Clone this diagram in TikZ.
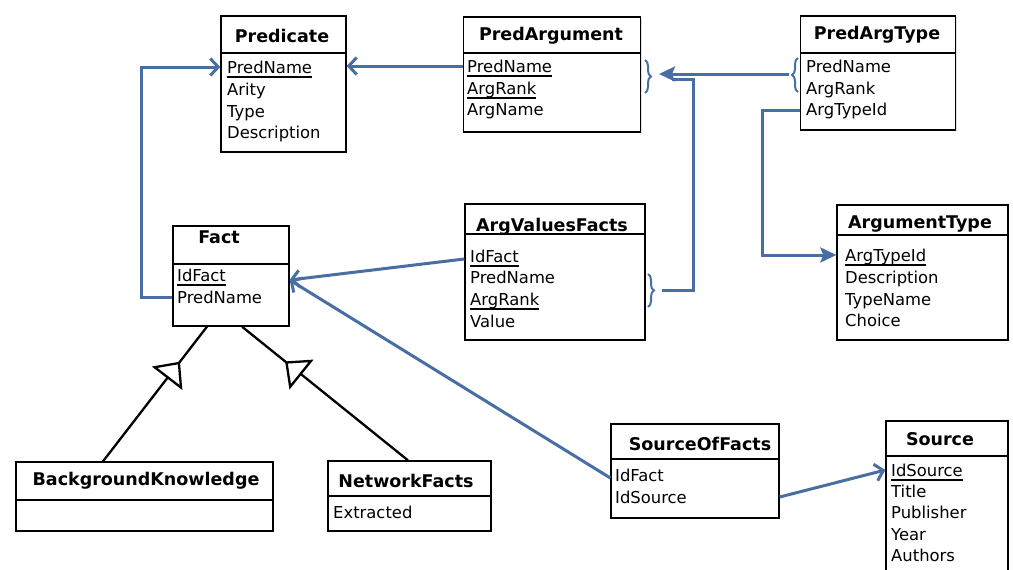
\documentclass[tikz,border=0pt]{standalone}
\usepackage{fontspec}
\setmainfont{DejaVu Sans}
\usetikzlibrary{arrows.meta,decorations.pathreplacing,decorations.markings,shadows}
\definecolor{fkblue}{RGB}{72,110,163}
\begin{document}
\begin{tikzpicture}[x=1pt,y=-1pt,
  tbox/.style={draw=black, line width=1.3pt, inner sep=0pt, fill=white,
    drop shadow={opacity=0.25, shadow xshift=1.2pt, shadow yshift=-1.2pt}},
  sep/.style={draw=black, line width=1.2pt},
  ttl/.style={anchor=base, inner sep=0pt, font=\fontsize{17.5}{20}\selectfont\bfseries},
  row/.style={anchor=base west, inner sep=0pt, font=\fontsize{16.4}{19}\selectfont},
  ul/.style={draw=black, line width=2.2pt},
  fk/.style={draw=fkblue, line width=3pt},
  openhead/.style={-{Straight Barb[length=8pt,width=17pt]}},
  fillhead/.style={-{Stealth[length=16pt,width=15pt,inset=3pt]}},
  brc/.style={draw=fkblue, line width=2pt, decorate, decoration={brace, amplitude=6pt}},
  gen/.style={draw=black, line width=2.3pt, postaction={decorate},
    decoration={markings, mark=at position 0.74 with {\arrow{Triangle[length=21pt,width=38pt,fill=white]}}}}
]
\useasboundingbox (0,0) rectangle (1013,570);
\clip (0,0) rectangle (1013,570);

% Predicate
\node[tbox, minimum width=125pt, minimum height=136pt] (pred) at (283.5,84) {};
\draw[sep] (pred.west |- 0,53) -- (pred.east |- 0,53);
\node[ttl] (pred-t) at (282,42) {Predicate};
\node[row] (pred-1) at (227,73) {PredName};
\node[row] (pred-2) at (227,95) {Arity};
\node[row] (pred-3) at (227,117) {Type};
\node[row] (pred-4) at (227,138) {Description};
\draw[ul] ([yshift=-4pt]pred-1.base west) -- ([yshift=-4pt]pred-1.base east);

% PredArgument
\node[tbox, minimum width=177pt, minimum height=115pt] (pa) at (552,74.5) {};
\draw[sep] (pa.west |- 0,53) -- (pa.east |- 0,53);
\node[ttl] (pa-t) at (551,41) {PredArgument};
\node[row] (pa-1) at (467,72) {PredName};
\node[row] (pa-2) at (467,94) {ArgRank};
\node[row] (pa-3) at (467,115) {ArgName};
\draw[ul] ([yshift=-4pt]pa-1.base west) -- ([yshift=-4pt]pa-1.base east);
\draw[ul] ([yshift=-4pt]pa-2.base west) -- ([yshift=-4pt]pa-2.base east);

% PredArgType
\node[tbox, minimum width=155pt, minimum height=114pt] (pat) at (878,73) {};
\draw[sep] (pat.west |- 0,53) -- (pat.east |- 0,53);
\node[ttl] (pat-t) at (877,39) {PredArgType};
\node[row] (pat-1) at (806,72) {PredName};
\node[row] (pat-2) at (806,94) {ArgRank};
\node[row] (pat-3) at (806,115) {ArgTypeId};

% ArgumentType
\node[tbox, minimum width=171pt, minimum height=135pt] (at) at (922.5,272.5) {};
\draw[sep] (at.west |- 0,235) -- (at.east |- 0,235);
\node[ttl] (at-t) at (920,228) {ArgumentType};
\node[row] (at-1) at (845,261) {ArgTypeId};
\node[row] (at-2) at (845,283) {Description};
\node[row] (at-3) at (845,305) {TypeName};
\node[row] (at-4) at (845,326) {Choice};
\draw[ul] ([yshift=-4pt]at-1.base west) -- ([yshift=-4pt]at-1.base east);

% ArgValuesFacts
\node[tbox, minimum width=180pt, minimum height=136pt] (avf) at (555,272) {};
\draw[sep] (avf.west |- 0,234) -- (avf.east |- 0,234);
\node[ttl] (avf-t) at (552,231) {ArgValuesFacts};
\node[row] (avf-1) at (470,262) {IdFact};
\node[row] (avf-2) at (470,283) {PredName};
\node[row] (avf-3) at (470,305) {ArgRank};
\node[row] (avf-4) at (470,327) {Value};
\draw[ul] ([yshift=-4pt]avf-1.base west) -- ([yshift=-4pt]avf-1.base east);
\draw[ul] ([yshift=-4pt]avf-3.base west) -- ([yshift=-4pt]avf-3.base east);

% Fact
\node[tbox, minimum width=116pt, minimum height=100pt] (fact) at (231,276) {};
\draw[sep] (fact.west |- 0,264) -- (fact.east |- 0,264);
\node[ttl] (fact-t) at (219,243) {Fact};
\node[row] (fact-1) at (177,281) {IdFact};
\node[row] (fact-2) at (177,303) {PredName};
\draw[ul] ([yshift=-4pt]fact-1.base west) -- ([yshift=-4pt]fact-1.base east);

% BackgroundKnowledge
\node[tbox, minimum width=257pt, minimum height=69pt] (bk) at (144.5,496.5) {};
\draw[sep] (bk.west |- 0,500) -- (bk.east |- 0,500);
\node[ttl] (bk-t) at (146,485) {BackgroundKnowledge};

% NetworkFacts
\node[tbox, minimum width=163pt, minimum height=70pt] (nf) at (409.5,496) {};
\draw[sep] (nf.west |- 0,496) -- (nf.east |- 0,496);
\node[ttl] (nf-t) at (406,487) {NetworkFacts};
\node[row] (nf-1) at (333,518) {Extracted};

% SourceOfFacts
\node[tbox, minimum width=168pt, minimum height=94pt] (sof) at (695,471) {};
\draw[sep] (sof.west |- 0,459) -- (sof.east |- 0,459);
\node[ttl] (sof-t) at (700,450) {SourceOfFacts};
\node[row] (sof-1) at (615,481) {IdFact};
\node[row] (sof-2) at (615,503) {IdSource};

% Source
\node[tbox, minimum width=122pt, minimum height=179pt] (src) at (947,510.5) {};
\draw[sep] (src.west |- 0,456) -- (src.east |- 0,456);
\node[ttl] (src-t) at (940,445) {Source};
\node[row] (src-1) at (891,476) {IdSource};
\node[row] (src-2) at (891,497) {Title};
\node[row] (src-3) at (891,518) {Publisher};
\node[row] (src-4) at (891,540) {Year};
\node[row] (src-5) at (891,561) {Authors};
\draw[ul] ([yshift=-4pt]src-1.base west) -- ([yshift=-4pt]src-1.base east);

% row centre coordinates
\coordinate (pred-1c) at ([yshift=6pt]pred-1.base west);
\coordinate (pa-1c) at ([yshift=6pt]pa-1.base west);
\coordinate (pat-3c) at ([yshift=5pt]pat-3.base west);
\coordinate (at-1c) at ([yshift=6pt]at-1.base west);
\coordinate (avf-1c) at ([yshift=3pt]avf-1.base west);
\coordinate (fact-2c) at ([yshift=6pt]fact-2.base west);
\coordinate (sof-2c) at ([yshift=6pt]sof-2.base west);
\coordinate (src-1c) at ([yshift=6pt]src-1.base west);

% braces
\draw[brc] (645,60) -- (645,93);
\draw[brc] (798,92) -- (798,58);
\draw[brc] (648,274) -- (648,307);
\coordinate (pat-br) at (789,74);
\coordinate (pa-br) at (659,74);
\coordinate (avf-br) at (662,290);
\coordinate (bend) at (693,79);
\coordinate (join) at (672,79);
\coordinate (bend2) at (762,200);
\coordinate (fact-in) at ([yshift=-4pt]fact.east);
\coordinate (sof-in) at ([yshift=-7pt]sof.west);

% foreign keys
\draw[fk, openhead] (pa.west |- pa-1c) -- (pred.east |- pa-1c);
\draw[fk, openhead] (fact.west |- fact-2c) -- ++(-31,0) |- (pred.west |- pred-1c);
\draw[fk] (avf-br) -| (bend) -- (join);
\draw[fk, fillhead] (pat-br) -- (pa-br);
\draw[fk, fillhead] (pat.west |- pat-3c) -| (bend2) |- (at.west |- at-1c);
\draw[fk, openhead] (avf.west |- avf-1c) -- (fact-in);
\draw[fk, openhead] (sof-in) -- (fact-in);
\draw[fk, openhead] (sof.east |- sof-2c) -- (src.west |- src-1c);

% generalisation
\draw[gen] (bk.north -| 103,0) -- (fact.south -| 207,0);
\draw[gen] (nf.north -| 408,0) -- (fact.south -| 242,0);
\end{tikzpicture}
\end{document}
